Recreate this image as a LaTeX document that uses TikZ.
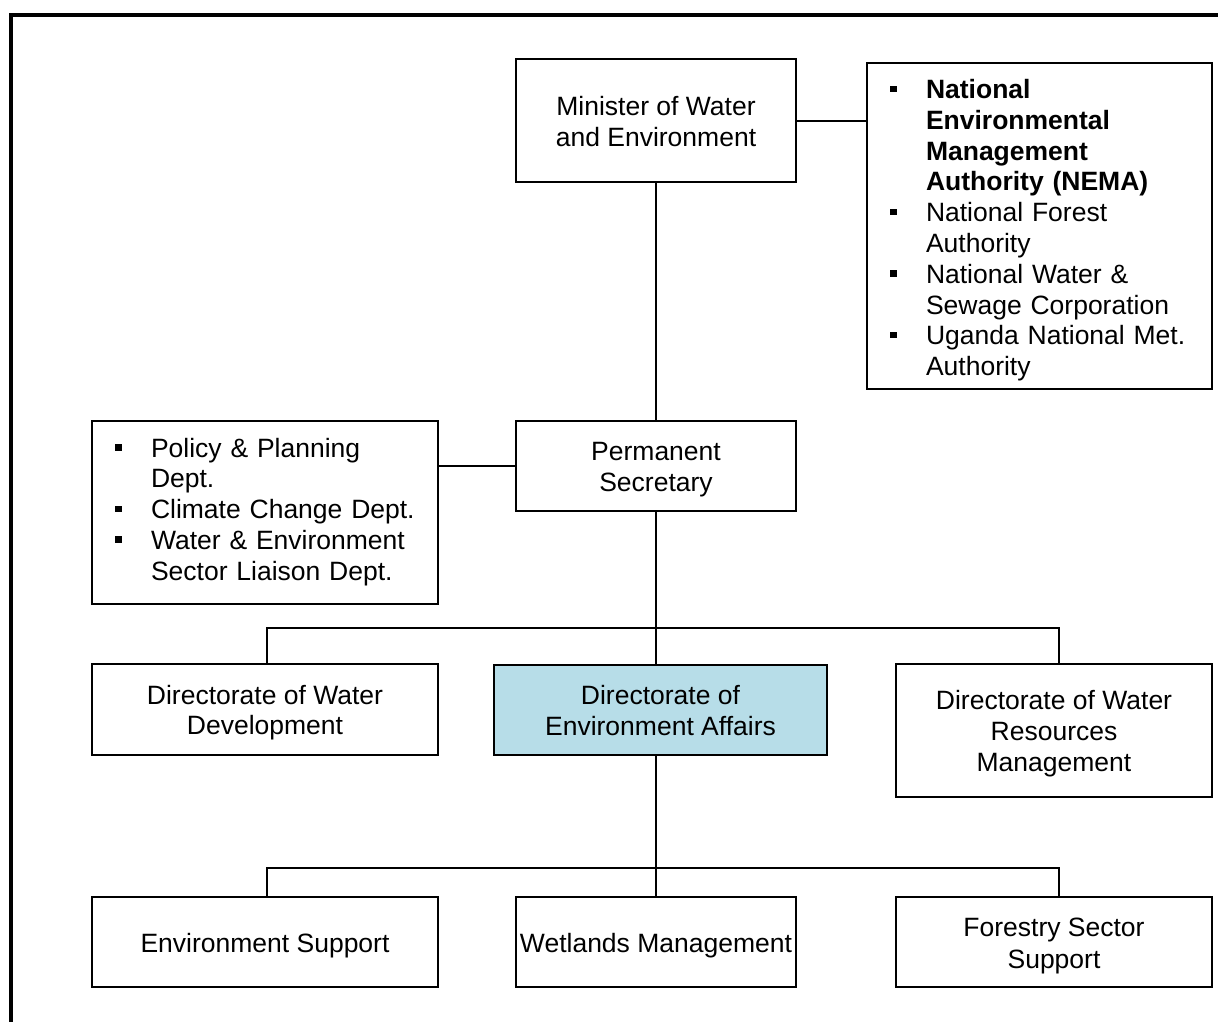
\documentclass[tikz,border=0pt]{standalone}
\usepackage{fontspec}
\setmainfont{Liberation Sans}
\newcommand\orgfont{\fontsize{26.5}{30.8}\selectfont}
\newcommand\sqb{\raisebox{6.5pt}{\rule{6.5pt}{6.5pt}}}
\newcommand\lstrut{\rule[-5.2pt]{0pt}{30.8pt}}
\definecolor{deafill}{RGB}{183,221,232}
\begin{document}
\begin{tikzpicture}[x=1pt,y=-1pt,
  box/.style={draw, line width=2.6pt, inner sep=0pt, align=center, font=\orgfont},
  listbox/.style={draw, line width=2.6pt, inner xsep=23pt, inner ysep=0pt, align=left, font=\orgfont},
  conn/.style={line width=2pt},
  frameline/.style={line width=4pt}]
\useasboundingbox (0,0) rectangle (1218,1021);
% outer frame (right and bottom sides lie outside the page)
\coordinate (fl) at (11,1030);
\coordinate (fc) at (11,14.5);
\coordinate (fr) at (1230,14.5);
\draw[frameline] (fl) -- (fc) -- (fr);

\node[box, minimum width=280, minimum height=123] (min) at (656,120.5) {\lstrut Minister of Water\\and Environment\lstrut};
\node[listbox, text width=299, minimum width=345, minimum height=326] (nema) at (1039.5,226)
 {\raisebox{-5pt}[\height][\depth]{\begin{tabular}{@{}p{36pt}@{}l@{}}
 \sqb & \textbf{National}\\
     & \textbf{Environmental}\\
     & \textbf{Management}\\
     & \textbf{Authority (NEMA)}\\
 \sqb & National Forest\\
     & Authority\\
 \sqb & National Water \&\\
     & Sewage Corporation\\
 \sqb & Uganda National Met.\\
     & Authority
 \end{tabular}}};
\node[box, minimum width=280, minimum height=90] (ps) at (656,466) {\lstrut Permanent\\Secretary\lstrut};
\node[listbox, text width=300, minimum width=346, minimum height=183] (pol) at (265,512.5)
 {\begin{tabular}{@{}p{36pt}@{}l@{}}
 \sqb & Policy \& Planning\\
     & Dept.\\
 \sqb & Climate Change Dept.\\
 \sqb & Water \& Environment\\
     & Sector Liaison Dept.
 \end{tabular}};
\node[box, minimum width=346, minimum height=91] (dwd) at (265,709.5) {\lstrut Directorate of Water\\Development\lstrut};
\node[box, fill=deafill, minimum width=333, minimum height=90] (dea) at (660.5,710) {\lstrut Directorate of\\Environment Affairs\lstrut};
\node[box, minimum width=316, minimum height=133] (dwrm) at (1054,730.5) {\lstrut Directorate of Water\\Resources\\Management\lstrut};
\node[box, minimum width=346, minimum height=90] (es) at (265,942) {\lstrut Environment Support\lstrut};
\node[box, minimum width=280, minimum height=90] (wet) at (656,942) {\lstrut Wetlands Management\lstrut};
\node[box, minimum width=316, minimum height=90] (fss) at (1054,942) {\lstrut Forestry Sector\\Support\lstrut};

% connectors
\draw[conn] (min.east) -- (min.east -| nema.west);
\draw[conn] (min.south) -- (ps.north);
\draw[conn] (ps.west) -- (ps.west -| pol.east);

\coordinate (a1) at (267,628);
\coordinate (a2) at (1059,628);
\draw[conn] (ps.south) -- (ps.south |- dea.north);
\draw[conn] (a1 |- dwd.north) -- (a1) -- (a2) -- (a2 |- dwrm.north);

\coordinate (b1) at (267,868);
\coordinate (b2) at (1059,868);
\draw[conn] (dea.south -| ps.south) -- (wet.north);
\draw[conn] (b1 |- es.north) -- (b1) -- (b2) -- (b2 |- fss.north);
\end{tikzpicture}
\end{document}
